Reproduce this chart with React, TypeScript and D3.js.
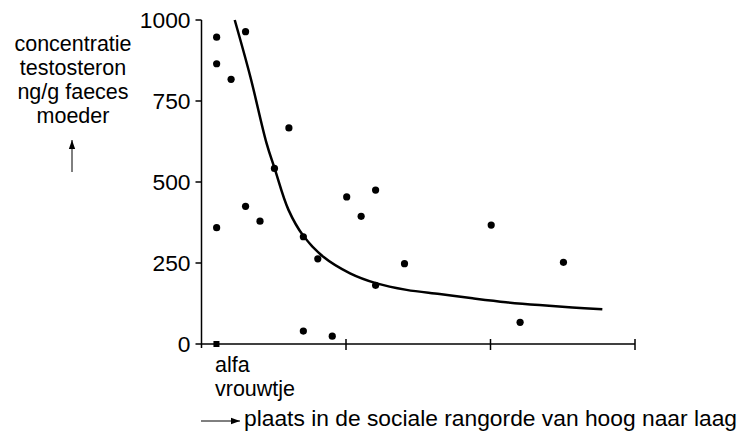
import React from 'react';
import * as d3 from 'd3';

// rangorde (1 = alfa vrouwtje) en testosteron concentratie
const ranks = [1, 1, 1, 2, 3, 3, 4, 5, 6, 7, 7, 8, 9, 10, 11, 12, 12, 14, 20, 22, 25];
const values = [947, 865, 359, 817, 964, 425, 379, 542, 667, 331, 40, 263, 24, 454, 394, 475, 181, 248, 367, 67, 252];

// trendlijn
const curveRanks = [2.3, 3.38, 4.5, 5.06, 6.02, 7.06, 8.43, 10.28, 12.12, 14.19, 16.48, 18.76, 21.08, 23.38, 25.66, 27.74];
const curveValues = [1000, 825, 620, 542, 414, 333, 269, 218, 187, 167, 154, 141, 129, 120, 113, 107];

const yTicks = [0, 250, 500, 750, 1000];
const xTicks = [10, 20, 30];
const yLabel = ['concentratie', 'testosteron', 'ng/g faeces', 'moeder'];
const alfaRank = 1;

const W = 741;
const H = 435;
const font = '"Liberation Sans", Arial, sans-serif';
const fs = 22.8;
const fsStack = 21.5;

export default function App() {
  const x = d3.scaleLinear().domain([0, 30]).range([201.5, 635]);
  const y = d3.scaleLinear().domain([0, 1000]).range([344, 20]);

  const line = d3
    .line<number>()
    .x((_, i) => x(curveRanks[i]))
    .y(d => y(d))
    .curve(d3.curveCatmullRom.alpha(0.5));

  const x0 = x(0);
  const y0 = y(0);

  return (
    <svg
      width={W}
      height={H}
      style={{ position: 'absolute', left: 0, top: 0, background: '#fff' }}
      fontFamily={font}
    >
      <defs>
        <marker id="arr" viewBox="0 0 10 10" refX="10" refY="5" markerWidth="9" markerHeight="9" orient="auto">
          <path d="M0,1.5 L10,5 L0,8.5 Z" fill="#000" />
        </marker>
      </defs>

      {/* y-as */}
      <line x1={x0} x2={x0} y1={y(1000)} y2={y0 + 4} stroke="#000" strokeWidth={1.5} />
      {yTicks.map(t => (
        <g key={t}>
          <line x1={x0 - 6} x2={x0} y1={y(t)} y2={y(t)} stroke="#000" strokeWidth={1.5} />
          <text x={x0 - 11} y={y(t)} dy="0.36em" textAnchor="end" fontSize={fs}>
            {t}
          </text>
        </g>
      ))}

      {/* x-as */}
      <line x1={x0} x2={x(30)} y1={y0} y2={y0} stroke="#000" strokeWidth={1.5} />
      {xTicks.map(t => (
        <line key={t} x1={x(t)} x2={x(t)} y1={y0 - 5} y2={y0 + 6} stroke="#000" strokeWidth={1.5} />
      ))}

      {/* trendlijn */}
      <path d={line(curveValues) || ''} fill="none" stroke="#000" strokeWidth={2.5} />

      {/* punten */}
      {values.map((v, i) => (
        <circle key={i} cx={x(ranks[i]) + 0.7} cy={y(v)} r={3.6} fill="#000" />
      ))}

      {/* alfa vrouwtje */}
      <rect x={x(alfaRank) - 2.5} y={y0 - 3} width={6} height={6} fill="#000" />
      <text x={215} y={372} fontSize={fsStack}>alfa</text>
      <text x={215} y={396} fontSize={fsStack}>vrouwtje</text>

      {/* y-label */}
      {yLabel.map((s, i) => (
        <text key={s} x={73} y={51 + i * 24} textAnchor="middle" fontSize={fsStack}>
          {s}
        </text>
      ))}
      <line x1={72} x2={72} y1={172} y2={140} stroke="#000" strokeWidth={1} markerEnd="url(#arr)" />

      {/* x-label */}
      <line x1={201} x2={240} y1={421} y2={421} stroke="#000" strokeWidth={1} markerEnd="url(#arr)" />
      <text x={244} y={426} fontSize={fs}>
        plaats in de sociale rangorde van hoog naar laag
      </text>
    </svg>
  );
}
